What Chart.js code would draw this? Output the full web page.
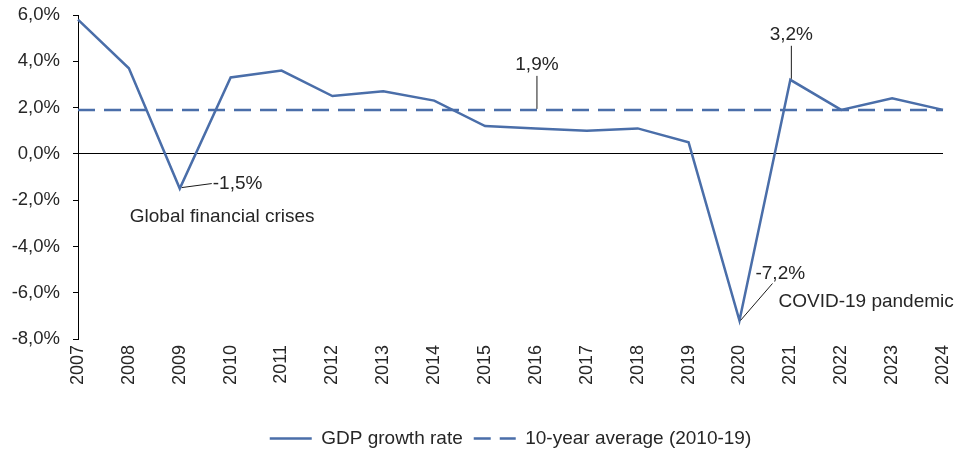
<!DOCTYPE html>
<html>
<head>
<meta charset="utf-8">
<script src="https://cdn.jsdelivr.net/npm/chart.js@4/dist/chart.umd.min.js"></script>
<style>
  html, body { margin: 0; padding: 0; background: #fff; }
  #wrap { width: 957px; height: 453px; position: relative; }
</style>
</head>
<body>
<div id="wrap"><canvas id="gdpChart"></canvas></div>
<script>
// --- data ---
const years = ['2007', '2008', '2009', '2010', '2011', '2012', '2013', '2014', '2015',
               '2016', '2017', '2018', '2019', '2020', '2021', '2022', '2023', '2024'];
const gdpGrowth = [5.8, 3.7, -1.5, 3.3, 3.6, 2.5, 2.7, 2.3, 1.2,
                   1.1, 1.0, 1.1, 0.5, -7.2, 3.2, 1.9, 2.4, 1.9];
const tenYearAverage = 1.9;
const yTicks = [-8, -6, -4, -2, 0, 2, 4, 6];
const seriesLabels = ['GDP growth rate', '10-year average (2010-19)'];

// annotations: text, category index, value it points at
const notes = [
  { text: '-1,5%', at: 2, value: -1.5, kind: 'right' },
  { text: 'Global financial crises', at: 2, value: -1.5, kind: 'caption' },
  { text: '1,9%', at: 9, value: tenYearAverage, kind: 'up' },
  { text: '3,2%', at: 14, value: 3.2, kind: 'up' },
  { text: '-7,2%', at: 13, value: -7.2, kind: 'diag' },
  { text: 'COVID-19 pandemic', at: 13, value: -7.2, kind: 'caption2' }
];

const blue = '#4a6ea9';
const textColor = '#262626';
const fontFamily = "'Liberation Sans', Arial, sans-serif";
const avgDash = [17, 9];

const fmtPct = (v) => v.toFixed(1).replace('.', ',') + '%';

// draws the leader lines and labels
const notePlugin = {
  id: 'notes',
  afterDatasetsDraw(chart) {
    const { ctx, scales: { x, y } } = chart;
    ctx.save();
    ctx.font = '19px ' + fontFamily;
    ctx.fillStyle = textColor;
    ctx.strokeStyle = '#1a1a1a';
    ctx.lineWidth = 1;
    ctx.textBaseline = 'middle';
    notes.forEach(n => {
      const px = x.getPixelForValue(n.at);
      const py = y.getPixelForValue(n.value);
      if (n.kind === 'right') {
        ctx.beginPath();
        ctx.moveTo(px + 2, py - 1);
        ctx.lineTo(px + 32, py - 5);
        ctx.stroke();
        ctx.textAlign = 'left';
        ctx.fillText(n.text, px + 33, py - 5);
      } else if (n.kind === 'caption') {
        ctx.textAlign = 'left';
        ctx.fillText(n.text, px - 50, py + 28);
      } else if (n.kind === 'up') {
        ctx.beginPath();
        ctx.moveTo(px + 1, py - 1);
        ctx.lineTo(px + 1, py - 34);
        ctx.stroke();
        ctx.textAlign = 'center';
        ctx.fillText(n.text, px + 1, py - 45);
      } else if (n.kind === 'diag') {
        ctx.beginPath();
        ctx.moveTo(px + 1, py);
        ctx.lineTo(px + 33, py - 37);
        ctx.stroke();
        ctx.textAlign = 'left';
        ctx.fillText(n.text, px + 16, py - 47);
      } else if (n.kind === 'caption2') {
        ctx.textAlign = 'left';
        ctx.fillText(n.text, px + 39, py - 19);
      }
    });
    ctx.restore();
  }
};

new Chart(document.getElementById('gdpChart'), {
  type: 'line',
  data: {
    labels: years,
    datasets: [
      {
        label: seriesLabels[0],
        data: gdpGrowth,
        borderColor: blue,
        backgroundColor: blue,
        borderWidth: 2.5,
        pointRadius: 0,
        tension: 0,
        pointStyle: 'line'
      },
      {
        label: seriesLabels[1],
        data: years.map(() => tenYearAverage),
        borderColor: blue,
        backgroundColor: blue,
        borderWidth: 2.5,
        borderDash: avgDash,
        pointRadius: 0,
        pointStyle: 'line'
      }
    ]
  },
  options: {
    responsive: true,
    maintainAspectRatio: false,
    animation: false,
    layout: { padding: { top: 15, right: 14, left: 0, bottom: -5 } },
    plugins: {
      tooltip: { enabled: false },
      legend: {
        position: 'bottom',
        fullSize: false,
        labels: {
          usePointStyle: true,
          pointStyle: 'line',
          pointStyleWidth: 42,
          boxWidth: 42,
          boxHeight: 19,
          padding: 11,
          color: textColor,
          font: { size: 19, family: fontFamily },
          // point-style items lose the dataset dash, so put it back
          generateLabels: (chart) =>
            Chart.defaults.plugins.legend.labels.generateLabels(chart).map((item, i) => ({
              ...item,
              lineWidth: 2.5,
              strokeStyle: blue,
              lineDash: i === 1 ? avgDash : []
            }))
        }
      }
    },
    scales: {
      x: {
        offset: false,
        grid: { display: false, drawTicks: false },
        border: { display: false },
        ticks: {
          minRotation: 90,
          maxRotation: 90,
          padding: 6,
          color: textColor,
          font: { size: 18, family: fontFamily }
        },
        afterFit: (s) => {
          s.height = 79;
          s.paddingLeft = 0;
          s.paddingRight = 0;
        }
      },
      y: {
        min: -8,
        max: 6,
        afterBuildTicks: (s) => { s.ticks = yTicks.map(v => ({ value: v })); },
        afterFit: (s) => {
          s.width = 78;
          s.paddingTop = 0;
          s.paddingBottom = 0;
        },
        border: { display: true, color: '#000', width: 1 },
        grid: {
          drawTicks: true,
          tickLength: 5,
          tickColor: '#000',
          color: (c) => (c.tick && c.tick.value === 0 ? '#000' : 'transparent'),
          lineWidth: 1
        },
        ticks: {
          padding: 13,
          color: textColor,
          font: { size: 18.5, family: fontFamily },
          callback: (v) => fmtPct(v)
        }
      }
    }
  },
  plugins: [notePlugin]
});
</script>
</body>
</html>
